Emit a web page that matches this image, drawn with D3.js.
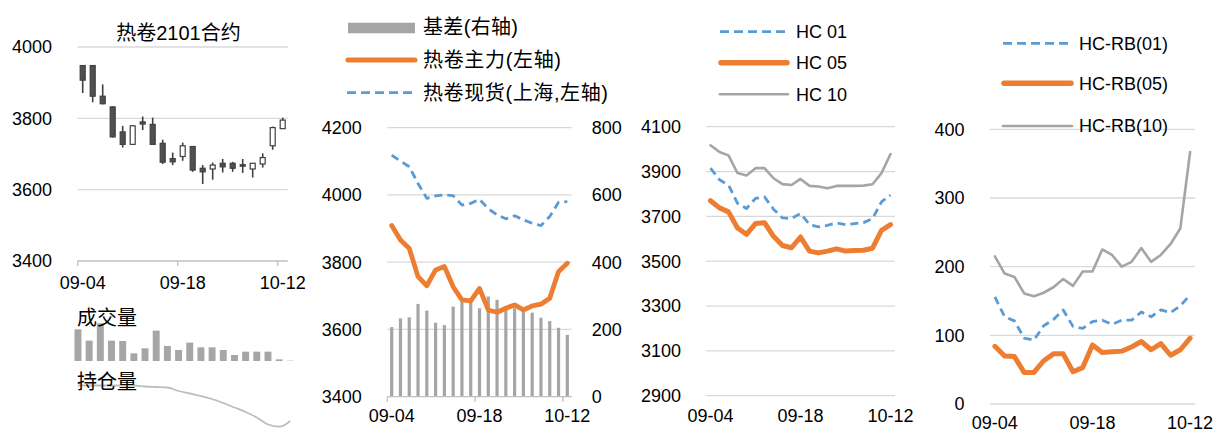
<!DOCTYPE html>
<html><head><meta charset="utf-8">
<script src="https://cdn.jsdelivr.net/npm/d3@7/dist/d3.min.js"></script>
<style>
html,body{margin:0;padding:0;background:#fff;}
text{font-family:"Liberation Sans","Noto Sans CJK SC",sans-serif;fill:#000;}
</style></head>
<body>
<svg id="c" width="1219" height="433"></svg>
<script>
// ---------- data ----------
const dates = ["09-04","09-07","09-08","09-09","09-10","09-11","09-14","09-15","09-16","09-17","09-18",
               "09-21","09-22","09-23","09-24","09-25","09-28","09-29","09-30","10-09","10-12"];
const xTickLabels = ["09-04","09-18","10-12"];

// Panel 1: HC2101 candlesticks
const candleOpen  = [3948,3948,3862,3832,3762,3727,3790,3783,3730,3687,3693,3721,3660,3658,3674,3674,3670,3658,3672,3723,3771];
const candleHigh  = [3948,3948,3895,3834,3779,3781,3805,3802,3740,3704,3732,3721,3669,3676,3686,3678,3686,3674,3702,3777,3802];
const candleLow   = [3871,3845,3839,3746,3718,3727,3767,3726,3672,3669,3681,3650,3616,3628,3648,3650,3647,3634,3662,3712,3771];
const candleClose = [3907,3862,3841,3748,3727,3779,3784,3727,3677,3678,3723,3655,3650,3669,3664,3660,3667,3674,3690,3774,3795];
const p1Ticks = [3400,3600,3800,4000];
const p1Title = "热卷2101合约";

// mini panel: volume & open interest
const volume = [95,61,113,61,60,23,38,91,45,33,55,41,41,33,18,28,28,28,5,1];
const openInterest = [120,120,120,120,120,120,119,118.5,118,114.5,112,109.5,106.5,102.5,98,93.5,88,81,78.8,84.5];

// Panel 2: basis & prices
const basis = [207,233,236,276,256,220,213,268,283,283,263,298,288,268,263,260,250,235,225,205,184];
const mainContract = [3909,3866,3841,3757,3730,3777,3787,3727,3688,3685,3722,3658,3651,3663,3673,3658,3670,3675,3693,3772,3797];
const spotShanghai = [4118,4101,4084,4034,3990,3997,4000,3998,3970,3975,3987,3959,3941,3929,3938,3926,3916,3909,3936,3978,3980];
const p2LeftTicks = [3400,3600,3800,4000,4200];
const p2RightTicks = [0,200,400,600,800];
const p2Legend = ["基差(右轴)","热卷主力(左轴)","热卷现货(上海,左轴)"];

// Panel 3: HC contracts
const hc01 = [3915,3863,3840,3758,3735,3780,3787,3732,3693,3690,3713,3663,3653,3660,3671,3663,3668,3672,3690,3765,3795];
const hc05 = [3770,3738,3720,3648,3620,3668,3672,3611,3570,3560,3608,3545,3537,3545,3555,3545,3548,3549,3558,3638,3663];
const hc10 = [4017,3987,3972,3893,3882,3915,3915,3870,3844,3840,3867,3836,3833,3825,3836,3836,3836,3837,3843,3893,3978];
const p3Ticks = [2900,3100,3300,3500,3700,3900,4100];
const p3Legend = ["HC 01","HC 05","HC 10"];

// Panel 4: HC-RB spreads
const hcrb01 = [156,127,121,96,93,114,123,137,113,110,120,122,116,122,122,134,127,137,133,143,159];
const hcrb05 = [84,70,69,46,46,63,73,73,47,53,86,75,76,77,83,91,79,88,71,79,96];
const hcrb10 = [215,190,185,161,157,162,170,182,172,193,193,225,217,200,207,227,207,217,233,256,367];
const p4Ticks = [0,100,200,300,400];
const p4Legend = ["HC-RB(01)","HC-RB(05)","HC-RB(10)"];

// ---------- styles ----------
const ORANGE = "#ed7d31", BLUE = "#5b9bd5", GRAY = "#a5a5a5", GRID = "#d9d9d9";
const svg = d3.select("#c");
const defs = svg.append("defs");
defs.append("filter").attr("id","blur").append("feGaussianBlur").attr("stdDeviation",0.6);

function grid(g, y, ticks, x0, x1){
  g.selectAll(null).data(ticks).enter().append("line")
    .attr("x1",x0).attr("x2",x1).attr("y1",d=>y(d)).attr("y2",d=>y(d))
    .attr("stroke",GRID).attr("stroke-width",1.3);
}
function yLabels(g, y, ticks, x, anchor){
  g.selectAll(null).data(ticks).enter().append("text")
    .attr("x",x).attr("y",d=>y(d)).attr("dy","0.35em")
    .attr("text-anchor",anchor).style("font-size","18px").text(d=>d);
}
function xLabels(g, x, yPos){
  g.selectAll(null).data(xTickLabels).enter().append("text")
    .attr("x",d=>x(d)+x.bandwidth()/2).attr("y",yPos).attr("dy","0.35em")
    .attr("text-anchor","middle").style("font-size","18px").text(d=>d);
}
function axisLine(g, x, yPos, withTicks){
  const [a,b] = x.range();
  g.append("line").attr("x1",a).attr("x2",b).attr("y1",yPos).attr("y2",yPos)
   .attr("stroke","#bfbfbf").attr("stroke-width",1.3);
  if(withTicks){
    g.selectAll(null).data(xTickLabels).enter().append("line")
     .attr("x1",d=>x(d)).attr("x2",d=>x(d)).attr("y1",yPos).attr("y2",yPos+5)
     .attr("stroke","#bfbfbf").attr("stroke-width",1.3);
  }
}
function series(g, x, y, vals, color, width, dash){
  const line = d3.line().x((d,i)=>x(dates[i])+x.bandwidth()/2).y(d=>y(d)).curve(d3.curveLinear);
  const p = g.append("path").datum(vals).attr("d",line).attr("fill","none")
    .attr("stroke",color).attr("stroke-width",width)
    .attr("stroke-linejoin","round").attr("stroke-linecap","round");
  if(dash) p.attr("stroke-dasharray",dash).attr("stroke-linecap","butt");
  return p;
}

// ---------- Panel 1: candlestick ----------
{
  const g = svg.append("g");
  const xb = d3.scaleBand().domain(dates).range([77.7,287.7]);
  const y = d3.scaleLinear().domain([3400,4000]).range([261,47]);
  grid(g, y, p1Ticks.filter(d=>d>3400), 77.7, 287.7);
  axisLine(g, xb, y(3400), true);
  yLabels(g, y, p1Ticks, 52, "end");
  xLabels(g, xb, 283);
  g.append("text").attr("x",178.5).attr("y",33).attr("dy","0.35em").attr("text-anchor","middle")
    .style("font-size","20px").text(p1Title);
  const cg = g.selectAll(null).data(dates).enter().append("g");
  cg.append("line")
    .attr("x1",d=>xb(d)+xb.bandwidth()/2).attr("x2",d=>xb(d)+xb.bandwidth()/2)
    .attr("y1",(d,i)=>y(candleHigh[i])).attr("y2",(d,i)=>y(candleLow[i]))
    .attr("stroke","#404040").attr("stroke-width",1.6);
  cg.append("rect")
    .attr("x",d=>xb(d)+xb.bandwidth()/2-2.5).attr("width",5)
    .attr("y",(d,i)=>y(Math.max(candleOpen[i],candleClose[i])))
    .attr("height",(d,i)=>Math.max(1.5,Math.abs(y(candleOpen[i])-y(candleClose[i]))))
    .attr("fill",(d,i)=>candleClose[i]>=candleOpen[i]?"#fff":"#505050")
    .attr("stroke","#404040").attr("stroke-width",1.2);
}

// ---------- mini panel: volume / OI ----------
{
  const g = svg.append("g");
  const idx = d3.range(volume.length);
  const x = d3.scaleBand().domain(idx).range([74.5,293.8]).paddingInner(0.38);
  const yv = d3.scaleLinear().domain([0,113]).range([361,323.3]);
  const yo = d3.scaleLinear().domain([80,120]).range([425.5,385.5]);
  const bg = g.append("g").attr("filter","url(#blur)");
  bg.selectAll(null).data(volume).enter().append("rect")
    .attr("x",(d,i)=>x(i)).attr("width",x.bandwidth())
    .attr("y",d=>yv(d)).attr("height",d=>361-yv(d)).attr("fill","#a6a6a6");
  bg.append("path").datum(openInterest)
    .attr("d",d3.line().x((d,i)=>x(i)+x.bandwidth()/2).y(d=>yo(d)).curve(d3.curveMonotoneX))
    .attr("fill","none").attr("stroke","#bdbdbd").attr("stroke-width",1.8);
  g.append("text").attr("x",77).attr("y",318).attr("dy","0.35em").style("font-size","20px").text("成交量");
  g.append("text").attr("x",77).attr("y",382).attr("dy","0.35em").style("font-size","20px").text("持仓量");
}

// ---------- Panel 2: basis ----------
{
  const g = svg.append("g");
  const x = d3.scaleBand().domain(dates).range([387.3,571.7]);
  const yl = d3.scaleLinear().domain([3400,4200]).range([396.7,127.7]);
  const yr = d3.scaleLinear().domain([0,800]).range([396.7,127.7]);
  grid(g, yl, p2LeftTicks.filter(d=>d>3400), 387.3, 571.7);
  g.selectAll(null).data(basis).enter().append("rect")
    .attr("x",(d,i)=>x(dates[i])+x.bandwidth()/2-1.6).attr("width",3.2)
    .attr("y",d=>yr(d)).attr("height",d=>yr(0)-yr(d)).attr("fill",GRAY);
  axisLine(g, x, yl(3400), true);
  yLabels(g, yl, p2LeftTicks, 361.7, "end");
  yLabels(g, yr, p2RightTicks, 591.7, "start");
  xLabels(g, x, 416);
  series(g, x, yl, spotShanghai, BLUE, 2.8, "8,5");
  series(g, x, yl, mainContract, ORANGE, 4.8);
  // legend
  g.append("rect").attr("x",348).attr("y",22.7).attr("width",67).attr("height",10.6).attr("fill",GRAY);
  g.append("line").attr("x1",348).attr("x2",415).attr("y1",60).attr("y2",60)
    .attr("stroke",ORANGE).attr("stroke-width",5).attr("stroke-linecap","round");
  g.append("line").attr("x1",347).attr("x2",416).attr("y1",92.7).attr("y2",92.7)
    .attr("stroke",BLUE).attr("stroke-width",2.8).attr("stroke-dasharray","9,5");
  const legW = [95,138,185];
  g.selectAll(null).data(p2Legend).enter().append("text")
    .attr("x",423).attr("y",(d,i)=>[27,60,92.7][i]).attr("dy","0.35em")
    .attr("textLength",(d,i)=>legW[i]).attr("lengthAdjust","spacing")
    .style("font-size","20px").text(d=>d);
}

// ---------- Panel 3: HC contracts ----------
{
  const g = svg.append("g");
  const x = d3.scaleBand().domain(dates).range([706,895]);
  const y = d3.scaleLinear().domain([2900,4100]).range([395.7,126.7]);
  grid(g, y, p3Ticks, 706, 895);
  yLabels(g, y, p3Ticks, 681, "end");
  xLabels(g, x, 415.5);
  series(g, x, y, hc10, GRAY, 2.6);
  series(g, x, y, hc01, BLUE, 2.8, "8,5");
  series(g, x, y, hc05, ORANGE, 5);
  const ly = [31.7,62.7,94.3];
  g.append("line").attr("x1",720).attr("x2",788).attr("y1",ly[0]).attr("y2",ly[0])
    .attr("stroke",BLUE).attr("stroke-width",2.8).attr("stroke-dasharray","9,5");
  g.append("line").attr("x1",721).attr("x2",787).attr("y1",ly[1]).attr("y2",ly[1])
    .attr("stroke",ORANGE).attr("stroke-width",5.5).attr("stroke-linecap","round");
  g.append("line").attr("x1",720).attr("x2",788).attr("y1",ly[2]).attr("y2",ly[2])
    .attr("stroke",GRAY).attr("stroke-width",2.6).attr("stroke-linecap","round");
  g.selectAll(null).data(p3Legend).enter().append("text")
    .attr("x",796).attr("y",(d,i)=>ly[i]).attr("dy","0.35em").style("font-size","18px").text(d=>d);
}

// ---------- Panel 4: HC-RB ----------
{
  const g = svg.append("g");
  const x = d3.scaleBand().domain(dates).range([990,1195]);
  const y = d3.scaleLinear().domain([0,400]).range([404,129.3]);
  grid(g, y, p4Ticks, 990, 1195);
  yLabels(g, y, p4Ticks, 964.5, "end");
  xLabels(g, x, 423);
  series(g, x, y, hcrb10, GRAY, 2.6);
  series(g, x, y, hcrb01, BLUE, 2.8, "8,5");
  series(g, x, y, hcrb05, ORANGE, 5);
  const ly = [43.3,83.3,126];
  g.append("line").attr("x1",1003).attr("x2",1072).attr("y1",ly[0]).attr("y2",ly[0])
    .attr("stroke",BLUE).attr("stroke-width",2.8).attr("stroke-dasharray","9,5");
  g.append("line").attr("x1",1004).attr("x2",1071).attr("y1",ly[1]).attr("y2",ly[1])
    .attr("stroke",ORANGE).attr("stroke-width",5.5).attr("stroke-linecap","round");
  g.append("line").attr("x1",1003).attr("x2",1072).attr("y1",ly[2]).attr("y2",ly[2])
    .attr("stroke",GRAY).attr("stroke-width",2.6).attr("stroke-linecap","round");
  g.selectAll(null).data(p4Legend).enter().append("text")
    .attr("x",1079).attr("y",(d,i)=>ly[i]).attr("dy","0.35em").style("font-size","18px").text(d=>d);
}
</script>
</body></html>
